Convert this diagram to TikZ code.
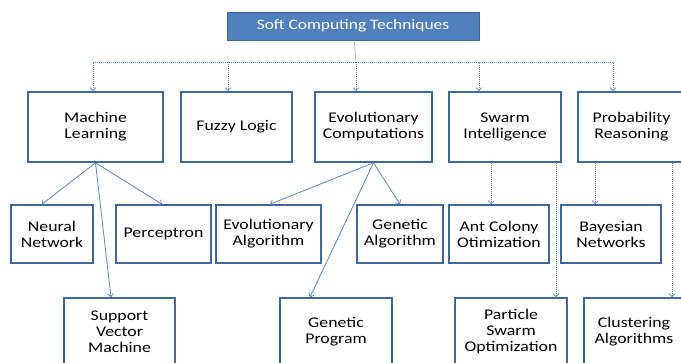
\documentclass[tikz,border=0pt]{standalone}
\usepackage{fontspec}
\setmainfont{Carlito}[FakeStretch=1.2]
\usetikzlibrary{arrows.meta}
\definecolor{boxline}{HTML}{41679E}
\definecolor{titlefill}{HTML}{4F81BD}
\definecolor{linkblue}{HTML}{5B86C5}
\begin{document}
\begin{tikzpicture}[x=1pt,y=-1pt,
    box/.style={draw=boxline,line width=1.6pt,fill=white,align=center,inner sep=1pt,
      font=\fontsize{14.8}{16}\selectfont,text=black},
    rowone/.style={box,minimum height=70pt},
    rowtwo/.style={box,minimum height=58pt},
    rowthree/.style={box,minimum height=67pt},
    head/.style={draw=boxline,line width=1pt,fill=titlefill,text=white,
      minimum width=252pt,minimum height=28pt,font=\fontsize{14.5}{16}\selectfont},
    link/.style={draw=linkblue,line width=0.8pt,-{Straight Barb[length=3pt,width=6pt]}},
    dotlink/.style={link,dash pattern=on 1pt off 1pt}]
  \useasboundingbox (0,0) rectangle (681,362);
  \node[head] (sct) at (353,26) {Soft Computing Techniques};
  \coordinate (bus) at (356,62);

  \node[rowone,minimum width=135pt] (ml) at (95.5,127) {Machine\\Learning};
  \node[rowone,minimum width=111pt] (fl) at (236.5,127) {Fuzzy Logic};
  \node[rowone,minimum width=117pt] (ec) at (373.5,127) {Evolutionary\\Computations};
  \node[rowone,minimum width=112pt] (si) at (505,127) {Swarm\\Intelligence};
  \node[rowone,minimum width=107pt] (pr) at (631.5,127) {Probability\\Reasoning};

  \node[rowtwo,minimum width=82pt] (nn) at (52,234) {Neural\\Network};
  \node[rowtwo,minimum width=95pt] (pc) at (163.5,234) {Perceptron};
  \node[rowtwo,minimum width=105pt] (ea) at (268.5,234) {Evolutionary\\Algorithm};
  \node[rowtwo,minimum width=86pt] (ga) at (400,234) {Genetic\\Algorithm};
  \node[rowtwo,minimum width=100pt] (aco) at (499,234) {Ant Colony\\Otimization};
  \node[rowtwo,minimum width=100pt] (bn) at (611,234) {Bayesian\\Networks};

  \node[rowthree,minimum width=111pt] (svm) at (119.5,331.5) {Support\\Vector\\Machine};
  \node[rowthree,minimum width=112pt] (gp) at (336,331.5) {Genetic\\Program};
  \node[rowthree,minimum width=112pt] (pso) at (511,331.5) {Particle\\Swarm\\Optimization};
  \node[rowthree,minimum width=100pt] (ca) at (634,331.5) {Clustering\\Algorithms};

  \draw[dotlink,-] (sct) -- (bus);
  \draw[dotlink] (bus) -| (93,0 |- ml.north);
  \draw[dotlink] (bus) -| (228,0 |- fl.north);
  \draw[dotlink] (bus) -- (bus |- ec.north);
  \draw[dotlink] (bus) -| (479,0 |- si.north);
  \draw[dotlink] (bus) -| (613,0 |- pr.north);

  \draw[link] (ml.south) -- (42,0 |- nn.north);
  \draw[link] (ml.south) -- (162,0 |- pc.north);
  \draw[link] (ml.south) -- (111,0 |- svm.north);
  \draw[link] (ec.south) -- (270,0 |- ea.north);
  \draw[link] (ec.south) -- (400,0 |- ga.north);
  \draw[link] (ec.south) -- (310,0 |- gp.north);

  \draw[dotlink] (491,0 |- si.south) -- (491,0 |- aco.north);
  \draw[dotlink] (556,0 |- si.south) -- (556,0 |- pso.north);
  \draw[dotlink] (595,0 |- pr.south) -- (595,0 |- bn.north);
  \draw[dotlink] (672,0 |- pr.south) -- (672,0 |- ca.north);
\end{tikzpicture}
\end{document}
